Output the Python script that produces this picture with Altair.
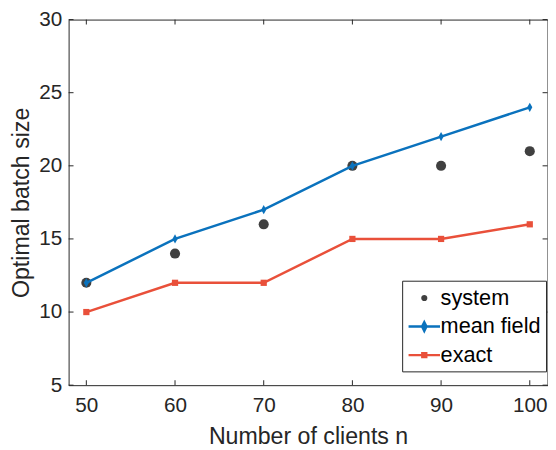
import altair as alt
import pandas as pd

n_clients = [50, 60, 70, 80, 90, 100]
system = [12, 14, 16, 20, 20, 21]
mean_field = [12, 15, 17, 20, 22, 24]
exact = [10, 12, 12, 15, 15, 16]

series_names = ["system", "mean field", "exact"]
colors = ["#404040", "#0A72BD", "#E9503A"]
x_ticks = [50, 60, 70, 80, 90, 100]
y_ticks = [5, 10, 15, 20, 25, 30]

rows = []
for name, vals in zip(series_names, [system, mean_field, exact]):
    for n, v in zip(n_clients, vals):
        rows.append({"n": n, "value": v, "series": name})
df = pd.DataFrame(rows)
xt = pd.DataFrame({"n": x_ticks})
yt = pd.DataFrame({"value": y_ticks})

W, H = 486, 371
FONT = "Liberation Sans"
TXT = "#262626"

xscale = alt.Scale(domain=[48, 102], nice=False, zero=False)
yscale = alt.Scale(domain=[5, 30], nice=False, zero=False)
axis_style = dict(grid=False, domain=False, ticks=False,
                  labelFont=FONT, labelFontSize=21, labelColor=TXT,
                  titleFont=FONT, titleFontSize=23.5, titleColor=TXT, titleFontWeight="normal")
xaxis = alt.Axis(values=x_ticks, title="Number of clients n", labelPadding=10, titlePadding=9,
                 **axis_style)
yaxis = alt.Axis(values=y_ticks, title="Optimal batch size", labelPadding=7, titlePadding=5.5,
                 **axis_style)


def X():
    return alt.X("n:Q", scale=xscale, axis=xaxis)


def Y():
    return alt.Y("value:Q", scale=yscale, axis=yaxis)


base = alt.Chart(df)

sys_pts = base.transform_filter("datum.series == 'system'").mark_point(
    shape="circle", filled=True, size=105, opacity=1, color=colors[0]
).encode(x=X(), y=Y())

mf = base.transform_filter("datum.series == 'mean field'")
mf_line = mf.mark_line(color=colors[1], strokeWidth=2.5).encode(x=X(), y=Y())
mf_pts = mf.mark_point(shape="M0,-1L0.55,0L0,1L-0.55,0Z", filled=True, size=90, opacity=1,
                       color=colors[1]).encode(x=X(), y=Y())

ex = base.transform_filter("datum.series == 'exact'")
ex_line = ex.mark_line(color=colors[2], strokeWidth=2.5).encode(x=X(), y=Y())
ex_pts = ex.mark_point(shape="square", filled=True, size=40, opacity=1,
                       color=colors[2]).encode(x=X(), y=Y())

legend_paths = [
    "M0.28,0A0.17,0.17,0,1,0,0.62,0A0.17,0.17,0,1,0,0.28,0Z",
    "M-1,0H1.9M0.45,-0.4L0.65,0L0.45,0.4L0.25,0Z",
    "M-1,0H1.9M0.27,-0.18H0.63V0.18H0.27Z",
]


def mk_legend():
    return alt.Legend(orient="none", legendX=338.5, legendY=265, title=None,
                      strokeColor=TXT, fillColor="white", padding=5,
                      labelFontSize=22, labelFont=FONT, labelColor="#000000",
                      symbolSize=484, symbolStrokeWidth=2.5, rowPadding=5,
                      labelOffset=9, symbolOpacity=1)


leg = base.transform_filter("datum.n < 0").mark_point(filled=True, opacity=1).encode(
    x=X(), y=Y(),
    fill=alt.Fill("series:N", scale=alt.Scale(domain=series_names, range=colors), legend=mk_legend()),
    stroke=alt.Stroke("series:N", scale=alt.Scale(domain=series_names, range=colors), legend=mk_legend()),
    shape=alt.Shape("series:N", scale=alt.Scale(domain=series_names, range=legend_paths), legend=mk_legend()),
)

tick_col = TXT
xb = alt.Chart(xt).mark_rule(color=tick_col, strokeWidth=1).encode(
    x=X(), y=alt.value(H), y2=alt.value(H - 5))
xtp = alt.Chart(xt).mark_rule(color=tick_col, strokeWidth=1).encode(
    x=X(), y=alt.value(0), y2=alt.value(5))
yl = alt.Chart(yt).mark_rule(color=tick_col, strokeWidth=1).encode(
    y=Y(), x=alt.value(0), x2=alt.value(5))
yr = alt.Chart(yt).mark_rule(color=tick_col, strokeWidth=1).encode(
    y=Y(), x=alt.value(W - 5), x2=alt.value(W))

chart = alt.layer(sys_pts, mf_line, mf_pts, ex_line, ex_pts, leg, xb, xtp, yl, yr).properties(
    width=W, height=H,
    background="white",
    autosize=alt.AutoSizeParams(type="none"),
    padding={"left": 61.5, "top": 8.5, "right": 0.5, "bottom": 60},
).configure_view(stroke=TXT, strokeWidth=1)

chart.save("out.html", embed_options={"renderer": "svg", "actions": False})
